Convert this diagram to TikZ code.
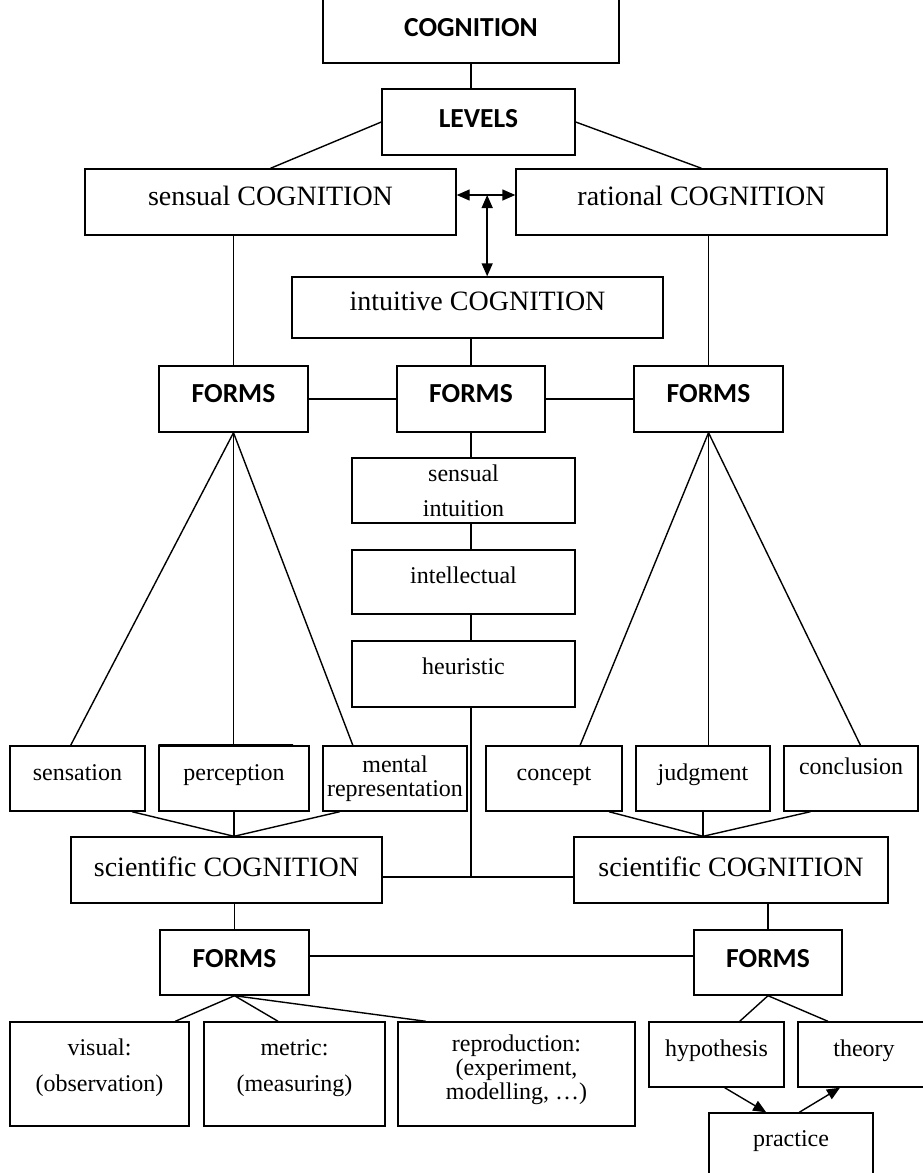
\documentclass[tikz,border=0pt]{standalone}
\usepackage{fontspec}
\setmainfont{Liberation Serif}
\newfontfamily\calibfont{Carlito}
\usetikzlibrary{arrows.meta,calc}

\newcommand{\txtbig}{\fontsize{28}{30}\selectfont}
\newcommand{\txtsmall}{\fontsize{24}{24}\selectfont}
\newcommand{\txtbold}{\calibfont\bfseries\fontsize{27.5}{30}\selectfont}

\begin{document}
\begin{tikzpicture}[x=1pt,y=-1pt,line width=1.4pt,
		box/.style={draw,inner sep=0pt,align=center,font=\txtsmall},
		bigbox/.style={box,font=\txtbig},
		boldbox/.style={box,font=\txtbold},
		lift/.style={text height=16pt,text depth=#1},lift/.default=12pt,
		tip/.style={-{Triangle[length=13pt,width=11pt]}},
		twotip/.style={{Triangle[length=13pt,width=11pt]}-{Triangle[length=13pt,width=11pt]}}]
		\useasboundingbox (0,0) rectangle (923,1173);

		% levels
		\node[boldbox,minimum width=296pt,minimum height=70pt] (cog) at (471,28) {COGNITION};
		\node[boldbox,lift=6pt,minimum width=193pt,minimum height=66pt] (lev) at (478.5,122) {LEVELS};
		\node[bigbox,lift=9pt,minimum width=371pt,minimum height=66pt] (sen) at (270.5,202) {sensual COGNITION};
		\node[bigbox,lift=9pt,minimum width=371pt,minimum height=66pt] (rat) at (701.5,202) {rational COGNITION};
		\node[bigbox,lift=10pt,minimum width=371pt,minimum height=61pt] (int) at (477.5,307.5) {intuitive COGNITION};

		% forms of the three levels
		\node[boldbox,lift=10pt,minimum width=149pt,minimum height=66pt] (fl) at (233.5,399) {FORMS};
		\node[boldbox,lift=10pt,minimum width=148pt,minimum height=66pt] (fm) at (471,399) {FORMS};
		\node[boldbox,lift=10pt,minimum width=149pt,minimum height=66pt] (fr) at (708.5,399) {FORMS};

		\node[box,minimum width=223pt,minimum height=65pt] (si) at (463.5,490.5) {sensual\\[11pt]intuition};
		\node[box,lift=13pt,minimum width=223pt,minimum height=64pt] (itl) at (463.5,582) {intellectual};
		\node[box,lift=15pt,minimum width=223pt,minimum height=66pt] (heu) at (463.5,674) {heuristic};

		\node[box,lift,minimum width=135pt,minimum height=65pt] (sens) at (77.5,778.5) {sensation};
		\node[box,lift,minimum width=150pt,minimum height=65pt] (perc) at (234,778.5) {perception};
		\node[box,minimum width=144pt,minimum height=65pt] (ment) at (395,778.5) {mental\\representation};
		\node[box,lift,minimum width=136pt,minimum height=65pt] (conc) at (554,778.5) {concept};
		\node[box,lift,minimum width=134pt,minimum height=65pt] (judg) at (703,778.5) {judgment};
		\node[box,lift=24pt,minimum width=134pt,minimum height=65pt] (concl) at (851,778.5) {conclusion};

		% scientific cognition
		\node[bigbox,lift=4pt,minimum width=311pt,minimum height=66pt] (scl) at (226.5,870) {scientific COGNITION};
		\node[bigbox,lift=4pt,minimum width=314pt,minimum height=66pt] (scr) at (731,870) {scientific COGNITION};
		\node[boldbox,lift=7pt,minimum width=149pt,minimum height=65pt] (flb) at (234.5,962.5) {FORMS};
		\node[boldbox,lift=7pt,minimum width=148pt,minimum height=65pt] (frb) at (768,962.5) {FORMS};

		\node[box,text depth=17pt,minimum width=179pt,minimum height=104pt] (vis) at (99.5,1074) {visual:\\[12pt](observation)};
		\node[box,text depth=17pt,minimum width=181pt,minimum height=104pt] (met) at (294.5,1074) {metric:\\[12pt](measuring)};
		\node[box,text depth=13pt,minimum width=237pt,minimum height=104pt] (rep) at (516.5,1074) {reproduction:\\(experiment,\\modelling, …)};
		\node[box,lift,minimum width=135pt,minimum height=65pt] (hyp) at (716.5,1054.5) {hypothesis};
		\node[box,lift,minimum width=132pt,minimum height=65pt] (the) at (864,1054.5) {theory};
		\node[box,lift=26pt,minimum width=164pt,minimum height=77pt] (pra) at (791,1151.5) {practice};
		\coordinate (jn) at (471,877);
		\coordinate (hub) at ($([yshift=7pt]sen.east)!.52!([yshift=7pt]rat.west)$);

		% connectors, top part
		\draw (cog.south) -- (cog.south |- lev.north);
		\draw (lev.west) -- (sen.north);
		\draw (lev.east) -- (rat.north);
		\draw[twotip] ([yshift=7pt]sen.east) -- ([yshift=7pt]rat.west);
		\draw[twotip] (hub) -- (hub |- int.north);
		\draw (fl.north |- sen.south) -- (fl.north);
		\draw (fr.north |- rat.south) -- (fr.north);
		\draw (fm.north |- int.south) -- (fm.north);
		\draw (fl.east) -- (fm.west);
		\draw (fm.east) -- (fr.west);

		% intuitive chain
		\draw (fm.south) -- (fm.south |- si.north);
		\draw (fm.south |- si.south) -- (fm.south |- itl.north);
		\draw (fm.south |- itl.south) -- (fm.south |- heu.north);
		\draw (fm.south |- heu.south) -- (jn);

		% sensual and rational forms
		\draw (fl.south) -- ($(sens.north west)!.45!(sens.north east)$);
		\draw (fl.south) -- (fl.south |- perc.north);
		\draw (fl.south) -- ($(ment.north west)!.21!(ment.north east)$);
		\draw[line width=2.6pt] (perc.north west) -- ($(perc.north west)!.89!(perc.north east)$);
		\draw (fr.south) -- ($(conc.north west)!.69!(conc.north east)$);
		\draw (fr.south) -- (fr.south |- judg.north);
		\draw (fr.south) -- ($(concl.north west)!.57!(concl.north east)$);

		\draw ($(sens.south west)!.9!(sens.south east)$) -- (perc.south |- scl.north);
		\draw (perc.south) -- (perc.south |- scl.north);
		\draw ($(ment.south west)!.12!(ment.south east)$) -- (perc.south |- scl.north);
		\draw ($(conc.south west)!.9!(conc.south east)$) -- (judg.south |- scr.north);
		\draw (judg.south) -- (judg.south |- scr.north);
		\draw ($(concl.south west)!.2!(concl.south east)$) -- (judg.south |- scr.north);
		\draw ([yshift=-7pt]scl.east) -- ([yshift=-7pt]scr.west);

		% forms of scientific cognition
		\draw (flb.north |- scl.south) -- (flb.north);
		\draw (frb.north |- scr.south) -- (frb.north);
		\draw ([yshift=6.5pt]flb.east) -- ([yshift=6.5pt]frb.west);
		\draw (flb.south) -- ($(vis.north west)!.92!(vis.north east)$);
		\draw (flb.south) -- ($(met.north west)!.41!(met.north east)$);
		\draw (flb.south) -- ($(rep.north west)!.12!(rep.north east)$);
		\draw (frb.south) -- ($(hyp.north west)!.67!(hyp.north east)$);
		\draw (frb.south) -- ($(the.north west)!.23!(the.north east)$);
		\draw[tip] ($(hyp.south west)!.56!(hyp.south east)$) -- ($(pra.north west)!.35!(pra.north east)$);
		\draw[tip] ($(pra.north west)!.55!(pra.north east)$) -- ($(the.south west)!.32!(the.south east)$);
	\end{tikzpicture}
\end{document}
